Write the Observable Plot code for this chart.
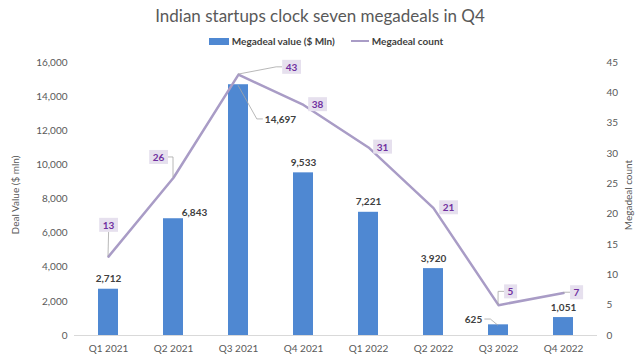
<!DOCTYPE html>
<html>
<head>
<meta charset="utf-8">
<script src="https://cdn.jsdelivr.net/npm/d3@7"></script>
<script src="https://cdn.jsdelivr.net/npm/@observablehq/plot@0.6"></script>
<style>
  html, body { margin: 0; padding: 0; background: #fff; }
  #wrap { position: relative; width: 640px; height: 358px; overflow: hidden; font-family: Lato, "Open Sans", sans-serif; }
  #title { position: absolute; top: 5px; left: 0; width: 640px; text-align: center; font-size: 17px; color: #595959; }
  #legend { position: absolute; top: 35px; left: 0; width: 652px; display: flex; justify-content: center; align-items: center; font-size: 10px; font-weight: bold; color: #404040; }
  .sw { display: inline-block; margin-right: 3px; }
  #chart { position: absolute; top: 52px; left: 0; }
</style>
</head>
<body>
<div id="wrap">
  <div id="title">Indian startups clock seven megadeals in Q4</div>
  <div id="legend"></div>
  <div id="chart"></div>
</div>
<script>
const quarters = ["Q1 2021", "Q2 2021", "Q3 2021", "Q4 2021", "Q1 2022", "Q2 2022", "Q3 2022", "Q4 2022"];
const dealValue = [2712, 6843, 14697, 9533, 7221, 3920, 625, 1051];
const dealCount = [13, 26, 43, 38, 31, 21, 5, 7];
const valueTicks = [0, 2000, 4000, 6000, 8000, 10000, 12000, 14000, 16000];
const countTicks = [0, 5, 10, 15, 20, 25, 30, 35, 40, 45];
const seriesNames = ["Megadeal value ($ Mln)", "Megadeal count"];

// annotation layout (pixel offsets of label centres from their anchor)
const valueLabelOffsets = [[0,-10],[21,-6],[42,35],[0,-10],[0,-10],[0,-10],[-25,-5],[0,-10]];
const valueLeaders = [false,false,true,false,false,false,true,false];
const countLabelOffsets = [[0,-31],[-15,-20],[53,-7],[14,0],[14,0],[15,0],[12,-13],[13,0]];
const countLeaders = [true,true,true,false,false,false,true,true];

const barColor = "#4F88D2";
const lineColor = "#A99CC6";
const valueLabelColor = "#404040";
const countLabelColor = "#7030A0";
const countMax = 45, valueMax = 16000;
const toValue = c => c * valueMax / countMax;

const rows = quarters.map((q, i) => ({q, value: dealValue[i], count: dealCount[i], countScaled: toValue(dealCount[i])}));
const fmt = d3.format(",");

// legend
const legend = document.getElementById("legend");
legend.innerHTML =
  `<span class="sw" style="width:20px;height:7px;background:${barColor}"></span><span>${seriesNames[0]}</span>` +
  `<span class="sw" style="width:18px;height:2px;background:${lineColor};margin-left:16px"></span><span>${seriesNames[1]}</span>`;

const valueLabels = rows.map((r, i) => Plot.text([r], {
  x: "q", y: "value", text: d => fmt(d.value),
  dx: valueLabelOffsets[i][0], dy: valueLabelOffsets[i][1],
  fontWeight: "bold", fill: valueLabelColor, fontSize: 10
}));
const countLabels = rows.map((r, i) => Plot.text([r], {
  x: "q", y: "countScaled", text: d => String(d.count),
  dx: countLabelOffsets[i][0], dy: countLabelOffsets[i][1],
  fontWeight: "bold", fill: countLabelColor, fontSize: 10
}));

const plot = Plot.plot({
  width: 640, height: 306,
  marginLeft: 74, marginRight: 43, marginTop: 10, marginBottom: 23,
  style: {fontFamily: "Lato, 'Open Sans', sans-serif", fontSize: "10px", color: "#595959", background: "white"},
  x: {domain: quarters, paddingInner: 0.69, paddingOuter: 0.345},
  y: {domain: [0, valueMax]},
  marks: [
    Plot.axisX({tickSize: 0, tickPadding: 9, label: null, fontSize: 10}),
    Plot.axisY({ticks: valueTicks, tickFormat: fmt, tickSize: 0, tickPadding: 7, label: null, fontSize: 10}),
    Plot.axisY({anchor: "right", ticks: countTicks.map(toValue), tickFormat: d => String(Math.round(d * countMax / valueMax)), tickSize: 0, tickPadding: 9, label: null, fontSize: 10}),
    Plot.text(["Deal Value ($ mln)"], {text: d => d, frameAnchor: "left", textAnchor: "middle", rotate: -90, dx: -59, dy: -4, fontSize: 10, fill: "#595959"}),
    Plot.text(["Megadeal count"], {text: d => d, frameAnchor: "right", textAnchor: "middle", rotate: -90, dx: 31, dy: -4, fontSize: 10, fill: "#595959"}),
    Plot.ruleY([0], {stroke: "#d9d9d9"}),
    Plot.barY(rows, {x: "q", y: "value", fill: barColor}),
    Plot.lineY(rows, {x: "q", y: "countScaled", stroke: lineColor, strokeWidth: 2.5}),
    ...valueLabels,
    ...countLabels
  ]
});
document.getElementById("chart").appendChild(plot);

// label boxes and leader lines, positioned with the plot's own scales
const svg = d3.select(plot);
const svgRect = plot.getBoundingClientRect();
const xs = plot.scale("x"), ys = plot.scale("y");
const xc = q => xs.apply(q) + xs.bandwidth / 2;

function textBox(t) {
  const r = t.getBoundingClientRect();
  return {x: r.left - svgRect.left, y: r.top - svgRect.top, width: r.width, height: r.height};
}

const valueGroups = svg.selectAll(`g[fill="${valueLabelColor}"]`).nodes();
const countGroups = svg.selectAll(`g[fill="${countLabelColor}"]`).nodes();
const leaderG = svg.insert("g", () => valueGroups[0]).attr("fill", "none").attr("stroke", "#A6A6A6").attr("stroke-width", 0.8);
const boxG = svg.insert("g", () => valueGroups[0]).attr("fill", "#E6E0EE");

function drawLeader(ax, ay, box) {
  const cx = box.x + box.width / 2, cy = box.y + box.height / 2;
  let pts;
  if (Math.abs(cx - ax) < 4) {
    pts = [[ax, ay], [cx, box.y + box.height]];
  } else if (cx > ax) {
    const ex = box.x;
    pts = [[ax, ay], [Math.max(ax, ex - 6), cy], [ex, cy]];
  } else {
    const ex = box.x + box.width;
    pts = [[ax, ay], [Math.min(ax, ex + 6), cy], [ex, cy]];
  }
  leaderG.append("path").attr("d", d3.line()(pts));
}

countGroups.forEach((g, i) => {
  const b = textBox(g.querySelector("text"));
  const box = {x: b.x - 3.5, y: b.y - 1, width: b.width + 7, height: b.height + 2};
  boxG.append("rect").attr("x", box.x).attr("y", box.y).attr("width", box.width).attr("height", box.height);
  if (countLeaders[i]) drawLeader(xc(rows[i].q), ys.apply(rows[i].countScaled), box);
});
valueGroups.forEach((g, i) => {
  if (!valueLeaders[i]) return;
  const b = textBox(g.querySelector("text"));
  const box = {x: b.x - 2, y: b.y, width: b.width + 4, height: b.height};
  drawLeader(xc(rows[i].q), ys.apply(rows[i].value) + 1, box);
});
</script>
</body>
</html>
